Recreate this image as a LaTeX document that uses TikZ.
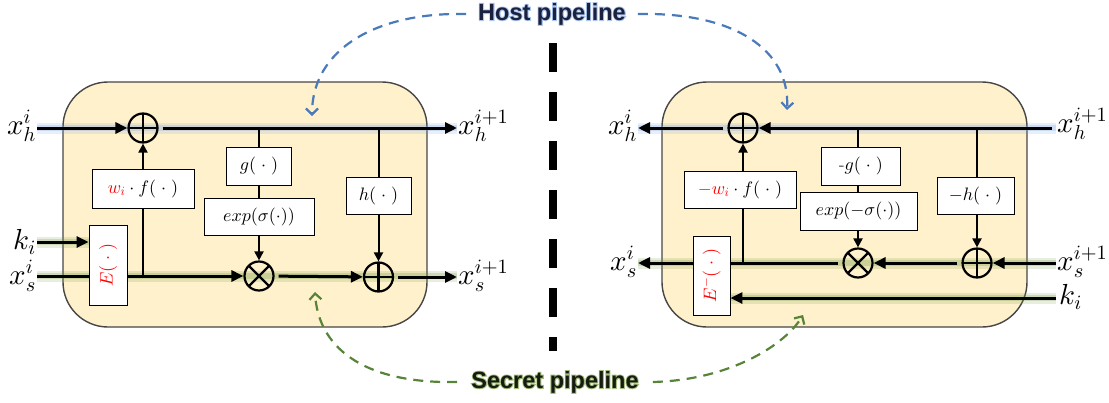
\RequirePackage{fix-cm}
\documentclass[tikz,border=0pt]{standalone}
\usepackage{fontspec}
\usepackage{graphicx}
\usetikzlibrary{arrows.meta}
\DeclareFontFamily{OML}{cmm}{\skewchar\font'177}
\DeclareFontShape{OML}{cmm}{m}{it}{<->cmmi10}{}
\DeclareFontShape{OML}{cmm}{b}{it}{<->cmmib10}{}
\DeclareFontFamily{OMS}{cmsy}{\skewchar\font'60}
\DeclareFontShape{OMS}{cmsy}{m}{n}{<->cmsy10}{}
\DeclareFontFamily{OT1}{cmr}{\hyphenchar\font45}
\DeclareFontShape{OT1}{cmr}{m}{n}{<->cmr10}{}
\newfontfamily\pfont{Liberation Sans}
\newfontfamily\pglow{Liberation Sans}[BoldFeatures={FakeBold=8}]
\definecolor{boxfill}{RGB}{255,241,203}
\definecolor{boxedge}{RGB}{70,70,70}
\definecolor{glowblue}{RGB}{110,155,225}
\definecolor{glowgreen}{RGB}{105,145,55}
\definecolor{tglowblue}{RGB}{175,200,240}
\definecolor{tglowgreen}{RGB}{165,190,125}
\definecolor{dashblue}{RGB}{74,122,186}
\definecolor{dashgreen}{RGB}{88,132,58}
\definecolor{hosttext}{RGB}{28,34,62}
\definecolor{secrettext}{RGB}{22,28,16}
\pgfdeclarelayer{bg}
\pgfsetlayers{bg,main}
\newcommand{\glowtitle}[2]{\rlap{\pglow\bfseries\color{#1}#2}#2}
\begin{document}
\begin{tikzpicture}[x=1pt,y=-1pt,
  lab/.style={font=\fontsize{29}{33}\selectfont, inner sep=1pt},
  fbox/.style={draw, fill=white, line width=0.9pt, font=\fontsize{18}{22}\selectfont, inner sep=0pt},
  sumc/.style={circle, draw, line width=2.2pt, minimum size=29pt, inner sep=0pt,
    path picture={\draw[line width=2.2pt] (path picture bounding box.north) -- (path picture bounding box.south)
      (path picture bounding box.west) -- (path picture bounding box.east);}},
  prodc/.style={circle, draw, line width=2.2pt, minimum size=29pt, inner sep=0pt,
    path picture={\draw[line width=2.2pt] (path picture bounding box.center) +(45:16pt) -- +(225:16pt)
      (path picture bounding box.center) +(135:16pt) -- +(315:16pt);}},
  mainarr/.style={line width=3pt, -{Triangle[length=12pt,width=11pt]}},
  mainln/.style={line width=3pt},
  brln/.style={line width=2pt},
  brarr/.style={line width=2pt, -{Triangle[length=9pt,width=9pt]}},
  panel/.style={draw=boxedge, line width=1.4pt, fill=boxfill, rounded corners=45pt},
  glowb/.style={draw=glowblue, line width=11pt, opacity=0.16},
  glowbi/.style={draw=glowblue, line width=6pt, opacity=0.22},
  glowg/.style={draw=glowgreen, line width=11pt, opacity=0.16},
  glowgi/.style={draw=glowgreen, line width=6pt, opacity=0.22},
  bluedash/.style={draw=dashblue, line width=2.2pt, dash pattern=on 10pt off 7pt, -{Straight Barb[length=6pt,width=12pt]}},
  greendash/.style={draw=dashgreen, line width=2.2pt, dash pattern=on 10pt off 7pt, -{Straight Barb[length=6pt,width=12pt]}},
  ptxt/.style={font=\pfont\bfseries\fontsize{23.5}{26}\selectfont, inner sep=0pt},
]
\useasboundingbox (0,0) rectangle (1109,402);

% ---------- left panel ----------
\node[sumc] (opL1) at (143,128) {};
\node[prodc] (otL) at (259,276) {};
\node[sumc] (opL2) at (378.5,277) {};
\node[fbox, minimum width=102pt, minimum height=39pt] (wfL) at (143,188.5) {$\textcolor{red}{w_i}\cdot f(\;\cdot\;)$};
\node[fbox, minimum width=65pt, minimum height=38pt] (gL) at (259,166) {$g(\;\cdot\;)$};
\node[fbox, minimum width=110pt, minimum height=37pt] (expL) at (259,216.5) {$exp(\sigma(\cdot))$};
\node[fbox, minimum width=65pt, minimum height=37pt] (hL) at (378.5,195.5) {$h(\;\cdot\;)$};
\node[fbox, minimum width=38pt, minimum height=80pt, text=red] (EL) at (108,265) {\rotatebox{90}{$E(\;\cdot\;)$}};
\node[lab, anchor=east] (xhL) at (37,126) {$x_h^i$};
\node[lab, anchor=east] (kL) at (37,242) {$k_i$};
\node[lab, anchor=east] (xsL) at (37,276) {$x_s^i$};
\node[lab, anchor=west] (xhL2) at (457,126) {$x_h^{i+1}$};
\node[lab, anchor=west] (xsL2) at (457,276) {$x_s^{i+1}$};

% ---------- right panel ----------
\node[sumc] (opR1) at (743,128) {};
\node[prodc] (otR) at (858,263) {};
\node[sumc] (opR2) at (977,263) {};
\node[fbox, minimum width=112pt, minimum height=37pt] (wfR) at (740,189.5) {$\textcolor{red}{-w_i}\cdot f(\;\cdot\;)$};
\node[fbox, minimum width=79pt, minimum height=38pt] (gR) at (861,166) {-$g(\;\cdot\;)$};
\node[fbox, minimum width=117pt, minimum height=38pt] (expR) at (858.5,211) {$exp(-\sigma(\cdot))$};
\node[fbox, minimum width=77pt, minimum height=37pt] (hR) at (975.5,195.5) {$-h(\;\cdot\;)$};
\node[fbox, minimum width=37pt, minimum height=79pt, text=red] (ER) at (711.5,275.5) {\rotatebox{90}{$E^{-}(\;\cdot\;)$}};
\node[lab, anchor=east] (xhR) at (638,126) {$x_h^i$};
\node[lab, anchor=east] (xsR) at (638,262) {$x_s^i$};
\node[lab, anchor=west] (xhR2) at (1056,124) {$x_h^{i+1}$};
\node[lab, anchor=west] (xsR2) at (1056,262) {$x_s^{i+1}$};
\node[lab, anchor=west] (kR) at (1058,297) {$k_i$};

% ---------- titles ----------
\node[ptxt, text=hosttext] (host) at (552,14) {\glowtitle{tglowblue}{Host pipeline}};
\node[ptxt, text=secrettext] (secret) at (555,382) {\glowtitle{tglowgreen}{Secret pipeline}};

% ---------- background: panels and glows ----------
\begin{pgfonlayer}{bg}
\draw[panel] (63,82) rectangle (427,327);
\draw[panel] (662,82) rectangle (1027,327);
\foreach \s in {glowb,glowbi}{
  \draw[\s] (xhL.east |- opL1) -- (xhL2.west |- opL1);
  \draw[\s] (xhR.east |- opR1) -- (xhR2.west |- opR1);
}
\coordinate (kRy) at (1056,298);
\foreach \s in {glowg,glowgi}{
  \draw[\s] (xsL.east |- otL) -- (xsL2.west |- otL);
  \draw[\s] (kL.east) -- (kL.east -| EL.west);
  \draw[\s] (xsR.east |- otR) -- (xsR2.west |- otR);
  \draw[\s] (kRy) -- (kRy -| ER.east);
}
\end{pgfonlayer}

% ---------- left connectors ----------
\draw[mainarr] (xhL.east |- opL1) -- (opL1);
\draw[mainarr, shorten <=4pt] (opL1) -- (xhL2.west |- opL1);
\draw[brln] (gL.north |- opL1) -- (gL.north);
\draw[brln] (gL) -- (expL);
\draw[brarr] (expL) -- (otL);
\draw[brln] (hL.north |- opL1) -- (hL.north);
\draw[brarr] (hL) -- (opL2);
\draw[brarr] (wfL) -- (opL1);
\draw[brln] (wfL.south) -- (wfL.south |- otL);
\draw[mainarr] (kL.east) -- (kL.east -| EL.west);
\draw[mainln] (xsL.east |- otL) -- (EL.west |- otL);
\draw[mainarr] (EL.east |- otL) -- (otL);
\draw[mainarr, shorten <=4pt] (otL) -- (opL2);
\draw[mainarr, shorten <=4pt] (opL2) -- (xsL2.west |- opL2);

% ---------- right connectors ----------
\draw[mainarr, shorten <=4pt] (xhR2.west |- opR1) -- (opR1);
\draw[mainarr, shorten <=4pt] (opR1) -- (xhR.east |- opR1);
\draw[brln] (otR |- opR1) -- (otR |- gR.north);
\draw[brln] (otR |- gR.south) -- (otR |- expR.north);
\draw[brarr] (otR |- expR.south) -- (otR);
\draw[brln] (opR2 |- opR1) -- (opR2 |- hR.north);
\draw[brarr] (opR2 |- hR.south) -- (opR2);
\draw[mainarr] (xsR2.west |- opR2) -- (opR2);
\draw[mainarr, shorten <=4pt] (opR2) -- (otR);
\draw[mainln, shorten <=4pt] (otR) -- (ER.east |- otR);
\draw[mainarr] (ER.west |- otR) -- (xsR.east |- otR);
\draw[brln] (opR1 |- otR) -- (opR1 |- wfR.south);
\draw[brarr] (opR1 |- wfR.north) -- (opR1);
\draw[mainarr] (kRy) -- (kRy -| ER.east);

% ---------- centre divider ----------
\draw[line width=8pt, dash pattern=on 29pt off 20pt] (553,43) -- (553,351);

% ---------- pipeline arrows ----------
\coordinate (hostL) at (312,116);
\coordinate (hostR) at (787,110);
\coordinate (secL) at (315,292);
\coordinate (secR) at (803,315);
\draw[bluedash] ([xshift=-12pt]host.west) .. controls (375,12) and (312,50) .. (hostL);
\draw[bluedash] ([xshift=12pt]host.east) .. controls (735,12) and (790,50) .. (hostR);
\draw[greendash] ([xshift=-14pt]secret.west) .. controls (360,384) and (318,345) .. (secL);
\draw[greendash] ([xshift=14pt]secret.east) .. controls (730,380) and (785,345) .. (secR);
\end{tikzpicture}
\end{document}
